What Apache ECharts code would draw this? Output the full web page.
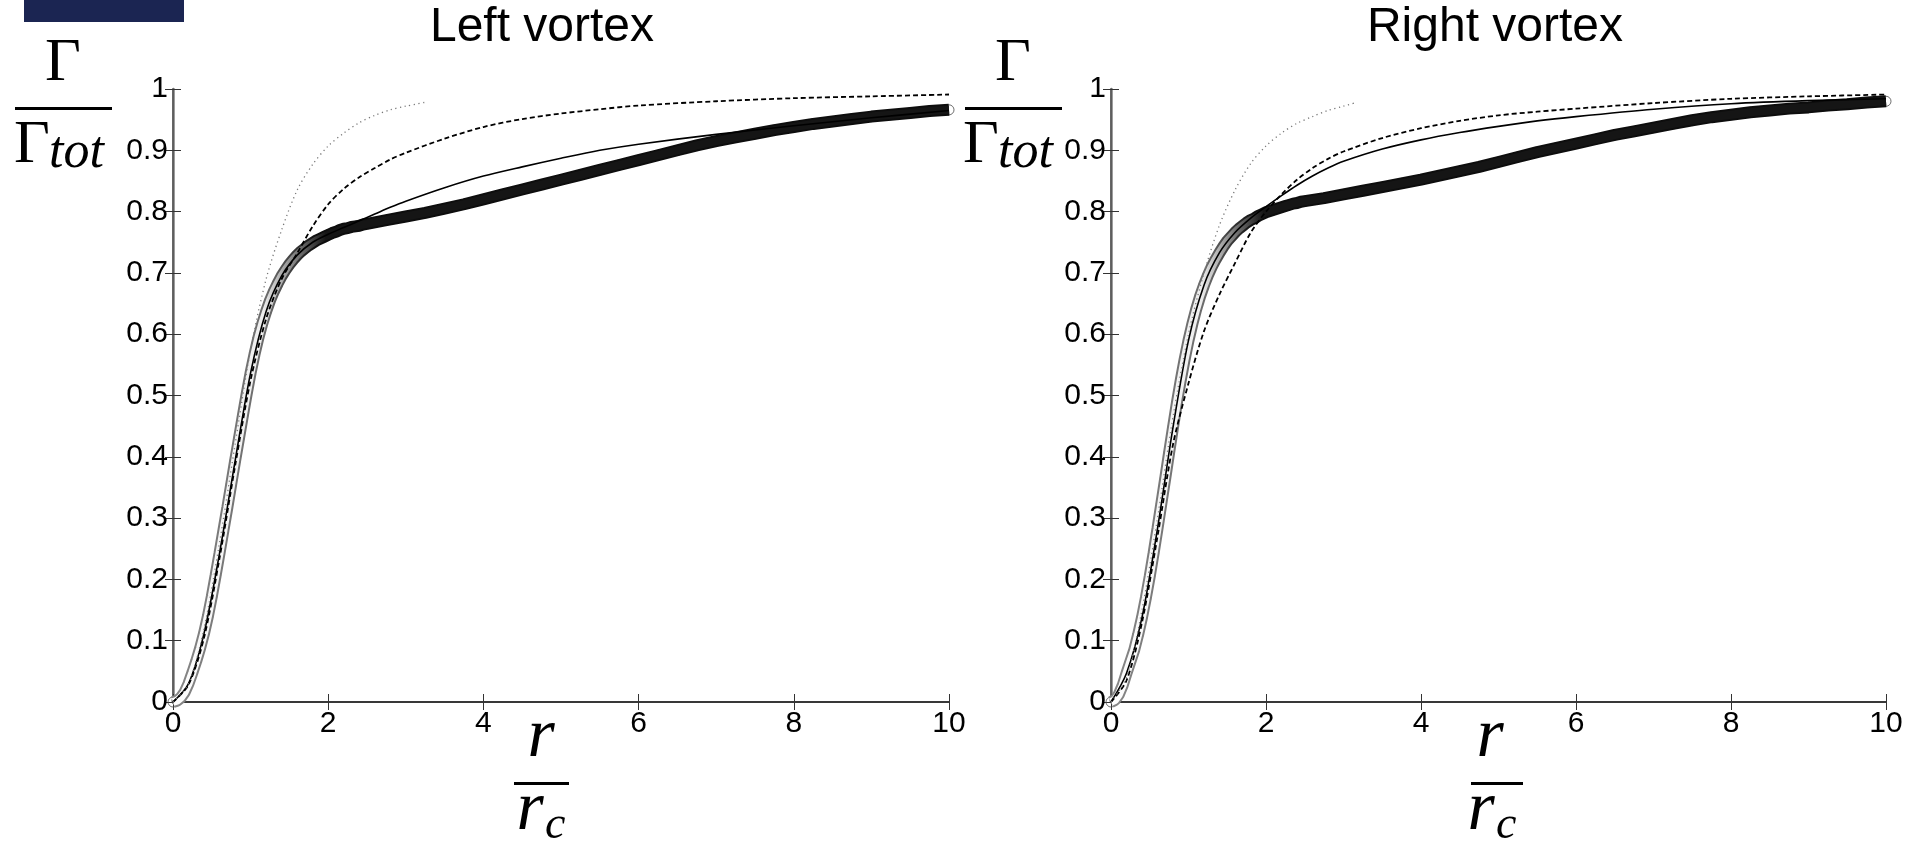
<!DOCTYPE html>
<html><head><meta charset="utf-8">
<script src="https://cdn.jsdelivr.net/npm/echarts@6/dist/echarts.min.js"></script>
<style>html,body{margin:0;padding:0;background:#fff}#c{width:1918px;height:852px}</style>
</head><body><div id="c"></div><script>
// ---- data ----
const circX = [0,0.05,0.1,0.15,0.2,0.25,0.3,0.35,0.4,0.45,0.5,0.55,0.6,0.65,0.7,0.75,0.8,0.85,0.9,0.95,
  1.0,1.05,1.1,1.15,1.2,1.25,1.3,1.35,1.4,1.45,1.5,1.55,1.6,1.65,1.7,1.75,1.8,1.85,1.9,1.95,
  2.0,2.05,2.1,2.15,2.2,2.25,2.3,2.35,2.4,2.45,2.5,
  2.75,3.0,3.25,3.5,3.75,4.0,4.25,4.5,4.75,5.0,5.25,5.5,5.75,6.0,6.25,6.5,6.75,7.0,7.25,7.5,7.75,8.0,8.25,8.5,8.75,9.0,9.25,9.5,9.75,10];
const circLeft = [0.000,0.002,0.007,0.016,0.030,0.048,0.067,0.088,0.112,0.140,0.172,0.207,0.243,0.280,0.317,0.355,0.393,0.430,0.467,0.503,
  0.537,0.567,0.594,0.617,0.637,0.655,0.670,0.683,0.695,0.705,0.714,0.722,0.729,0.735,0.740,0.745,0.749,0.753,0.756,0.759,
  0.762,0.765,0.767,0.770,0.772,0.773,0.775,0.776,0.777,0.779,0.780,
  0.786,0.792,0.798,0.805,0.812,0.820,0.828,0.836,0.844,0.852,0.860,0.868,0.876,0.884,0.892,0.900,0.908,0.915,0.921,0.927,0.933,0.938,0.943,0.947,0.951,0.955,0.958,0.961,0.964,0.966];
const circRight = [0.000,0.003,0.012,0.027,0.047,0.066,0.085,0.110,0.138,0.170,0.205,0.243,0.283,0.324,0.365,0.407,0.448,0.488,0.525,0.559,
  0.590,0.617,0.641,0.662,0.680,0.696,0.710,0.722,0.733,0.743,0.752,0.759,0.766,0.772,0.777,0.782,0.786,0.789,0.793,0.796,
  0.799,0.801,0.803,0.805,0.807,0.809,0.811,0.813,0.814,0.816,0.817,
  0.822,0.828,0.834,0.840,0.846,0.852,0.859,0.866,0.873,0.881,0.889,0.897,0.904,0.911,0.918,0.925,0.931,0.937,0.943,0.949,0.954,0.958,0.962,0.965,0.968,0.970,0.973,0.975,0.978,0.980];

const lineX = [0,0.2,0.4,0.6,0.8,1.0,1.2,1.4,1.6,1.8,2.0,2.2,2.4,2.6,2.8,3.0,3.5,4.0,4.5,5.0,5.5,6.0,7.0,8.0,9.0,10];
const solidLeft  = [0,0.030,0.112,0.243,0.393,0.537,0.637,0.695,0.729,0.750,0.763,0.774,0.785,0.796,0.807,0.817,0.839,0.858,0.873,0.887,0.900,0.910,0.926,0.940,0.953,0.965];
const dashLeft   = [0,0.028,0.105,0.235,0.385,0.525,0.625,0.690,0.732,0.776,0.812,0.837,0.856,0.871,0.885,0.896,0.919,0.938,0.951,0.960,0.967,0.973,0.980,0.985,0.988,0.991];
const solidRight = [0,0.047,0.138,0.283,0.448,0.590,0.680,0.733,0.766,0.789,0.808,0.826,0.843,0.858,0.871,0.882,0.902,0.917,0.929,0.939,0.948,0.955,0.967,0.976,0.981,0.984];
const dashRight  = [0,0.035,0.130,0.270,0.420,0.520,0.605,0.665,0.716,0.765,0.800,0.828,0.852,0.871,0.886,0.898,0.920,0.936,0.948,0.957,0.963,0.968,0.977,0.984,0.988,0.991];

const dotXLeft  = [0,0.2,0.4,0.6,0.8,1.0,1.2,1.4,1.6,1.8,2.0,2.2,2.4,2.6,2.8,3.0,3.28];
const dotLeft   = [0,0.03,0.12,0.26,0.42,0.575,0.69,0.77,0.835,0.877,0.907,0.928,0.945,0.957,0.966,0.972,0.979];
const dotXRight = [0,0.2,0.4,0.6,0.8,1.0,1.2,1.4,1.6,1.8,2.0,2.2,2.4,2.6,2.8,3.0,3.14];
const dotRight  = [0,0.04,0.15,0.30,0.465,0.60,0.70,0.778,0.835,0.878,0.907,0.928,0.944,0.955,0.965,0.972,0.977];

const titles = ['Left vortex','Right vortex'];

// ---- helpers ----
const pair = (xs, ys) => xs.map((x, i) => [x, ys[i]]);
const grids = [
  {left: 173, top: 89, width: 776, height: 613},
  {left: 1111, top: 89, width: 775, height: 613}
];
const labelFont = {fontFamily: '"Liberation Sans", Arial, sans-serif', fontSize: 30, color: '#000'};
const xAxes = [], yAxes = [];
grids.forEach((g, gi) => {
  xAxes.push({gridIndex: gi, type: 'value', min: 0, max: 10, interval: 2, position: 'bottom',
    axisLine: {show: true, lineStyle: {color: '#7d7d7d', width: 2}},
    axisTick: {show: true, inside: true, length: 8, lineStyle: {color: '#333', width: 1}},
    axisLabel: Object.assign({margin: 7}, labelFont), splitLine: {show: false}});
  xAxes.push({gridIndex: gi, type: 'value', min: 0, max: 10, interval: 2, position: 'top',
    axisLine: {show: true, lineStyle: {color: '#222', width: 1.5}},
    axisTick: {show: true, inside: true, length: 8, lineStyle: {color: '#333', width: 1}},
    axisLabel: {show: false}, splitLine: {show: false}});
  yAxes.push({gridIndex: gi, type: 'value', min: 0, max: 1, interval: 0.1, position: 'left',
    axisLine: {show: true, lineStyle: {color: '#7d7d7d', width: 2.5}},
    axisTick: {show: true, inside: true, length: 8, lineStyle: {color: '#333', width: 1}},
    axisLabel: Object.assign({margin: 5}, labelFont), splitLine: {show: false}});
  yAxes.push({gridIndex: gi, type: 'value', min: 0, max: 1, interval: 0.1, position: 'right',
    axisLine: {show: true, lineStyle: {color: '#555', width: 1.5}},
    axisTick: {show: true, inside: true, length: 8, lineStyle: {color: '#333', width: 1}},
    axisLabel: {show: false}, splitLine: {show: false}});
});

function grad(stops) {
  return new echarts.graphic.LinearGradient(0, 0, 1, 0, stops);
}
const series = [];
[[circLeft, solidLeft, dashLeft, dotXLeft, dotLeft], [circRight, solidRight, dashRight, dotXRight, dotRight]]
.forEach(([circ, solid, dash, dx, dot], gi) => {
  const ax = {xAxisIndex: gi * 2, yAxisIndex: gi * 2};
  const cdata = pair(circX, circ);
  series.push(Object.assign({type: 'line', data: cdata, symbol: 'none', silent: true,
    lineStyle: {width: 12, color: grad([{offset: 0, color: '#8a8a8a'}, {offset: 0.13, color: '#6a6a6a'}, {offset: 0.19, color: '#0d0d0d'}, {offset: 1, color: '#0d0d0d'}])}}, ax));
  series.push(Object.assign({type: 'line', data: cdata, symbol: 'none', silent: true,
    lineStyle: {width: 8, color: grad([{offset: 0, color: '#ffffff'}, {offset: 0.12, color: '#eeeeee'}, {offset: 0.2, color: '#151515'}, {offset: 1, color: '#151515'}])}}, ax));
  series.push(Object.assign({type: 'scatter', data: cdata, symbol: 'circle', symbolSize: 10, silent: true,
    itemStyle: {color: 'rgba(255,255,255,0)', borderColor: '#4a4a4a', borderWidth: 1}}, ax));
  series.push(Object.assign({type: 'line', data: pair(lineX, solid), symbol: 'none', smooth: 0.3, silent: true,
    lineStyle: {width: 1.6, color: '#000'}}, ax));
  series.push(Object.assign({type: 'line', data: pair(lineX, dash), symbol: 'none', smooth: 0.3, silent: true,
    lineStyle: {width: 1.8, color: '#000', type: [5, 3]}}, ax));
  series.push(Object.assign({type: 'line', data: pair(dx, dot), symbol: 'none', smooth: 0.3, silent: true,
    lineStyle: {width: 1.3, color: '#777', type: [1.2, 3.5]}}, ax));
});

const serif = '"Liberation Serif", "DejaVu Serif", serif';
function txt(t, x, y, font, align) {
  return {type: 'text', x: x, y: y, silent: true,
    style: {text: t, font: font, fill: '#000', textAlign: align || 'center', align: align || 'center',
      textVerticalAlign: 'middle', verticalAlign: 'middle'}};
}
function rect(x, y, w, h, fill) {
  return {type: 'rect', silent: true, shape: {x: x, y: y, width: w, height: h}, style: {fill: fill || '#000'}};
}
const graphics = [
  rect(24, 0, 160, 22, '#1b2552'),
  txt(titles[0], 542, 28, '48px "Liberation Sans", Arial, sans-serif'),
  txt(titles[1], 1495, 28, '48px "Liberation Sans", Arial, sans-serif'),
  // y labels
  txt('Γ', 63, 64, '62px ' + serif), rect(15, 107, 97, 3), txt('Γ', 32, 146, '62px ' + serif),
  txt('tot', 49, 153, 'italic 52px ' + serif, 'left'),
  txt('Γ', 1013, 64, '62px ' + serif), rect(965, 107, 97, 3), txt('Γ', 981, 146, '62px ' + serif),
  txt('tot', 998, 153, 'italic 52px ' + serif, 'left'),
  // x labels
  txt('r', 541, 738, 'italic 70px ' + serif), rect(514, 782, 55, 3),
  txt('r', 530, 811, 'italic 70px ' + serif), txt('c', 545, 826, 'italic 46px ' + serif, 'left'),
  txt('r', 1490, 738, 'italic 70px ' + serif), rect(1471, 782, 52, 3),
  txt('r', 1481, 811, 'italic 70px ' + serif), txt('c', 1496, 826, 'italic 46px ' + serif, 'left')
];

const chart = echarts.init(document.getElementById('c'), null, {renderer: 'canvas'});
chart.setOption({
  animation: false,
  backgroundColor: '#fff',
  grid: grids,
  xAxis: xAxes,
  yAxis: yAxes,
  series: series,
  graphic: graphics
});
</script></body></html>
